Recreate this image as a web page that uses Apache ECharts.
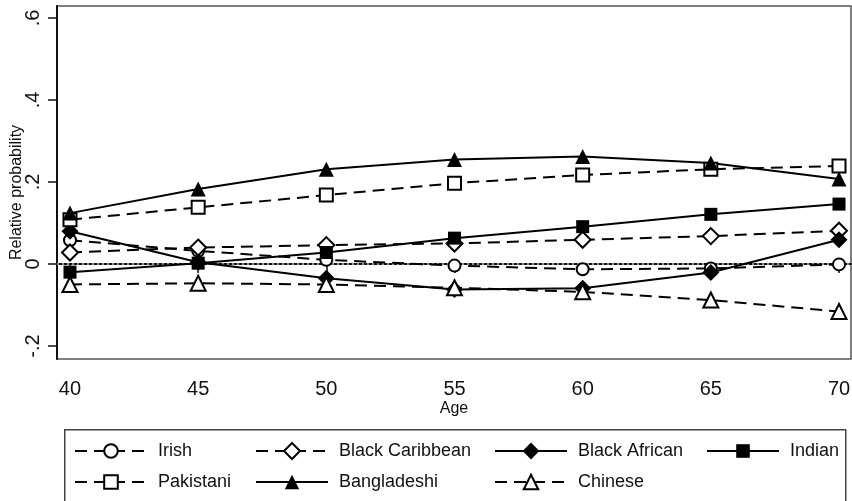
<!DOCTYPE html>
<html>
<head>
<meta charset="utf-8">
<script src="https://cdn.jsdelivr.net/npm/echarts@6/dist/echarts.min.js"></script>
<style>
html,body{margin:0;padding:0;background:#fff;}
#chart{width:852px;height:501px;}
</style>
</head>
<body>
<div id="chart"></div>
<script>
// ---- data ----
const ages = [40, 45, 50, 55, 60, 65, 70];
const irish         = [0.058, 0.032, 0.010, -0.004, -0.013, -0.011, -0.001];
const blackCaribbean= [0.028, 0.040, 0.046, 0.050, 0.059, 0.068, 0.081];
const blackAfrican  = [0.080, 0.004, -0.035, -0.062, -0.059, -0.021, 0.059];
const indian        = [-0.020, 0.002, 0.028, 0.063, 0.091, 0.121, 0.146];
const pakistani     = [0.108, 0.138, 0.168, 0.197, 0.217, 0.231, 0.239];
const bangladeshi   = [0.124, 0.183, 0.231, 0.255, 0.262, 0.246, 0.207];
const chinese       = [-0.050, -0.047, -0.050, -0.058, -0.068, -0.088, -0.116];

const xTicks = [40, 45, 50, 55, 60, 65, 70];
const yTicks = [-0.2, 0, 0.2, 0.4, 0.6];
const yTickLabels = ['-.2', '0', '.2', '.4', '.6'];
const seriesNames = ['Irish', 'Black Caribbean', 'Black African', 'Indian', 'Pakistani', 'Bangladeshi', 'Chinese'];
const seriesValues = [irish, blackCaribbean, blackAfrican, indian, pakistani, bangladeshi, chinese];
const xTitle = 'Age';
const yTitle = 'Relative probability';

// ---- styles ----
const FONT = '"Liberation Sans", Arial, Helvetica, sans-serif';
const dash = [12, 7];
const styles = [
  { symbol: 'emptyCircle',   size: 12, dashed: true,  legH: 17, legDy: 0 },
  { symbol: 'emptyDiamond',  size: 16, dashed: true,  legH: 20, legDy: 1 },
  { symbol: 'diamond',       size: 17, dashed: false, legH: 21, legDy: 1.5 },
  { symbol: 'rect',          size: 13, dashed: false, legH: 17, legDy: 0 },
  { symbol: 'emptyRect',     size: 13, dashed: true,  legH: 17, legDy: 0 },
  { symbol: 'triangle',      size: 15, dashed: false, legH: 18, legDy: 0 },
  { symbol: 'emptyTriangle', size: 15, dashed: true,  legH: 18, legDy: 0 }
];

const chart = echarts.init(document.getElementById('chart'), null, { renderer: 'canvas' });

const series = seriesNames.map((name, i) => {
  const s = {
    name: name,
    type: 'line',
    data: ages.map((a, j) => [a, seriesValues[i][j]]),
    symbol: styles[i].symbol,
    symbolSize: styles[i].size,
    showAllSymbol: true,
    animation: false,
    z: 3,
    lineStyle: { color: '#000', width: 2, type: styles[i].dashed ? dash : 'solid' },
    itemStyle: { color: '#000' },
    emphasis: { disabled: true }
  };
  if (i === 0) {
    s.markLine = {
      silent: true,
      symbol: 'none',
      label: { show: false },
      z: 1,
      lineStyle: { color: '#b8b8b8', type: [2, 3], width: 1.5 },
      data: [{ yAxis: 0 }]
    };
  }
  return s;
});

// legend grid layout (columns x, row centre y)
const legCols = [74, 255, 494, 706];
const legRowCentres = [451, 482];
const legends = seriesNames.map((name, i) => {
  const h = styles[i].legH;
  return {
    data: [name],
    left: legCols[i % 4],
    top: legRowCentres[Math.floor(i / 4)] - Math.max(h, 18) / 2 + styles[i].legDy,
    orient: 'horizontal',
    itemWidth: 72,
    itemHeight: h,
    selectedMode: false,
    padding: 0,
    textStyle: { fontFamily: FONT, fontSize: 18, color: '#111', padding: [0, 0, 0, 6] }
  };
});

const option = {
  backgroundColor: '#fff',
  animation: false,
  grid: {
    left: 57, top: 6, right: 1, bottom: 142,
    containLabel: false,
    outerBoundsMode: 'none',
    show: true, borderColor: '#555', borderWidth: 1.5, backgroundColor: 'transparent'
  },
  xAxis: {
    type: 'value',
    min: 39.493, max: 70.468,
    name: xTitle,
    nameLocation: 'middle',
    nameGap: 42,
    nameMoveOverlap: false,
    nameTextStyle: { fontFamily: FONT, fontSize: 16, color: '#111' },
    axisLine: { show: true, lineStyle: { color: '#111', width: 2 } },
    axisTick: { show: true, length: 9, lineStyle: { color: '#111', width: 1.5 }, customValues: xTicks },
    axisLabel: { fontFamily: FONT, fontSize: 20, color: '#111', margin: 20, customValues: xTicks,
                 formatter: v => String(v) },
    splitLine: { show: false }
  },
  yAxis: {
    type: 'value',
    min: -0.2317, max: 0.629,
    name: yTitle,
    nameLocation: 'middle',
    nameRotate: 90,
    nameGap: 32,
    nameMoveOverlap: false,
    nameTextStyle: { fontFamily: FONT, fontSize: 16, color: '#111', padding: [0, 20, 0, 0] },
    axisLine: { show: true, lineStyle: { color: '#111', width: 2 } },
    axisTick: { show: true, length: 9, lineStyle: { color: '#111', width: 1.5 }, customValues: yTicks },
    axisLabel: {
      fontFamily: FONT, fontSize: 20, color: '#111', rotate: 90, margin: 14,
      customValues: yTicks,
      formatter: v => {
        const k = yTicks.findIndex(t => Math.abs(t - v) < 1e-6);
        return k >= 0 ? yTickLabels[k] : '';
      }
    },
    splitLine: { show: false }
  },
  legend: legends,
  graphic: [{
    type: 'rect',
    left: 64, top: 429,
    shape: { width: 781, height: 90 },
    style: { fill: 'transparent', stroke: '#444', lineWidth: 1.5 },
    silent: true
  }],
  series: series
};
chart.setOption(option);
</script>
</body>
</html>
